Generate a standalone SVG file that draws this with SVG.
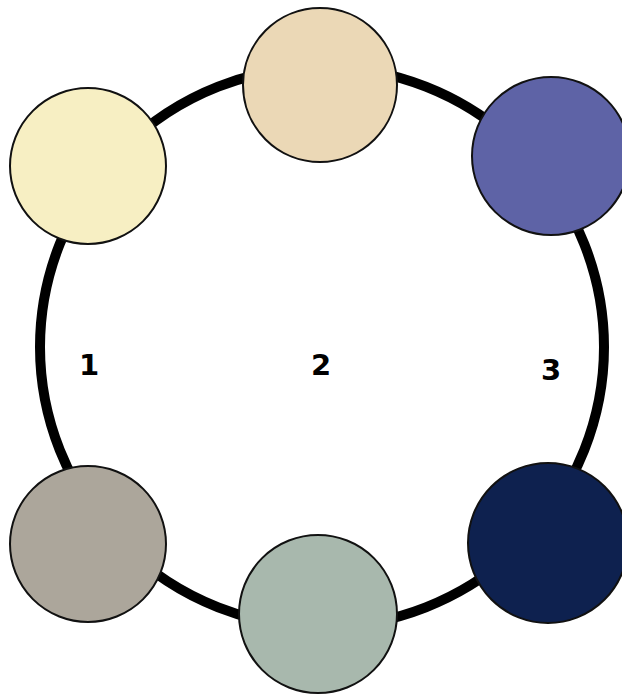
<svg xmlns="http://www.w3.org/2000/svg" width="622" height="696" viewBox="0 0 622 696">
<style>
.node { stroke: #111; stroke-width: 2; }
.lbl { font-family: "DejaVu Sans", "Liberation Sans", sans-serif; font-weight: bold; font-size: 29px; fill: #000; text-anchor: middle; }
</style>
<rect width="622" height="696" fill="#fff"/>
<g id="connectors">
<ellipse cx="322" cy="347" rx="282" ry="280" fill="none" stroke="#000" stroke-width="10"/>
</g>
<g id="node1"><circle class="node" cx="88" cy="166" r="78" fill="#f7efc3"/></g>
<g id="node2"><circle class="node" cx="320" cy="85" r="77" fill="#ebd8b6"/></g>
<g id="node3"><circle class="node" cx="551" cy="156" r="79" fill="#5e63a6"/></g>
<g id="node4"><circle class="node" cx="88" cy="544" r="78" fill="#aca69b"/></g>
<g id="node5"><circle class="node" cx="318" cy="614" r="79" fill="#a8b8ad"/></g>
<g id="node6"><circle class="node" cx="548" cy="543" r="80" fill="#0e214f"/></g>
<g id="labels">
<text class="lbl" x="89" y="375">1</text>
<text class="lbl" x="321" y="375">2</text>
<text class="lbl" x="551" y="380">3</text>
</g>
</svg>
